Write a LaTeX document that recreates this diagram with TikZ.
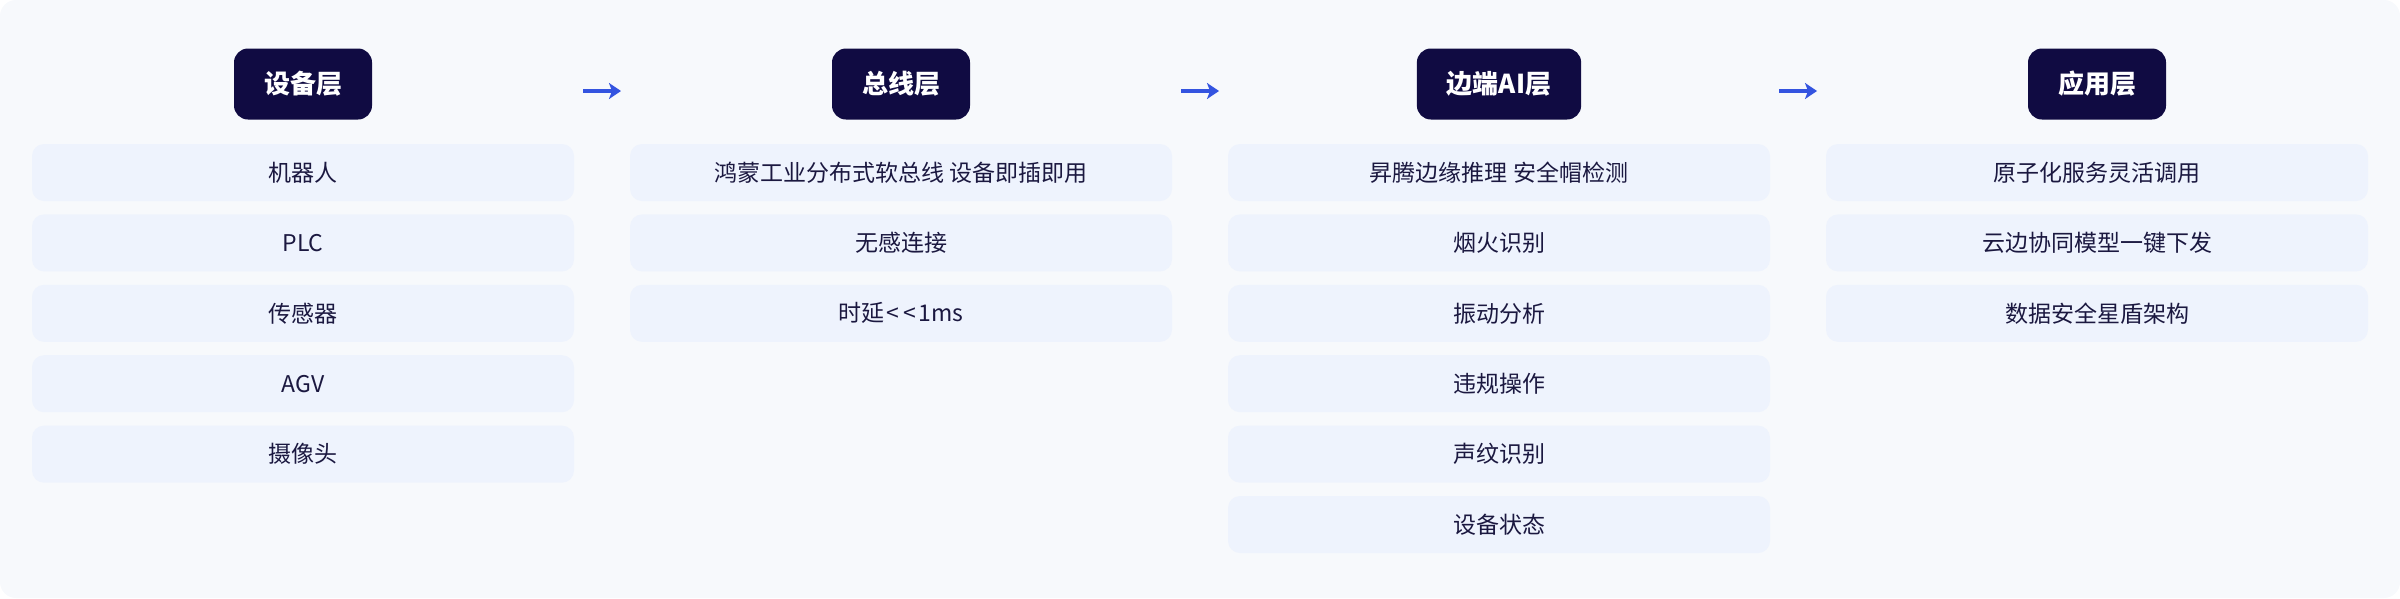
\documentclass[tikz,border=0pt]{standalone}
\usepackage{fontspec}
\setmainfont{Noto Sans CJK SC}
\usepackage{tikz}
\usetikzlibrary{positioning, arrows.meta}
\definecolor{bgcol}{HTML}{F7F9FC}
\definecolor{itemcol}{HTML}{EEF3FD}
\definecolor{navy}{HTML}{100B42}
\definecolor{inkcol}{HTML}{1B1840}
\definecolor{arrowcol}{HTML}{3454E0}

\begin{document}
\begin{tikzpicture}[x=1pt,y=-1pt,node distance=13pt,>={Stealth[length=12pt,width=16pt,inset=3pt]},font=\fontsize{23}{27}\selectfont]
	
	\tikzstyle{layer}=[fill=navy,text=white,rounded corners=14pt,minimum height=71pt,inner xsep=30pt,inner ysep=0pt,font=\fontsize{26}{31}\selectfont\bfseries]
	\tikzstyle{item}=[fill=itemcol,text=inkcol,rounded corners=12pt,minimum width=542pt,minimum height=57pt,inner sep=0pt]
	\tikzstyle{flow}=[->,draw=arrowcol,line width=3.5pt]
	
	\fill[bgcol,rounded corners=16pt] (0,0) rectangle (2400,598);
	\useasboundingbox (0,0) rectangle (2400,598);
	
	\node[layer] (h1) at (303,84) {设备层};
	\node[layer] (h2) at (901,84) {总线层};
	\node[layer] (h3) at (1499,84) {边端AI层};
	\node[layer] (h4) at (2097,84) {应用层};
	
	\node[item] (d1) at (303,172.5) {机器人};
	\node[item,below=of d1] (d2) {PLC};
	\node[item,below=of d2] (d3) {传感器};
	\node[item,below=of d3] (d4) {AGV};
	\node[item,below=of d4] (d5) {摄像头};
	
	\node[item] (b1) at (901,172.5) {鸿蒙工业分布式软总线 设备即插即用};
	\node[item,below=of b1] (b2) {无感连接};
	\node[item,below=of b2] (b3) {时延\hspace{2pt}<\hspace{4pt}<\hspace{2pt}1ms};
	
	\node[item] (e1) at (1499,172.5) {昇腾边缘推理 安全帽检测};
	\node[item,below=of e1] (e2) {烟火识别};
	\node[item,below=of e2] (e3) {振动分析};
	\node[item,below=of e3] (e4) {违规操作};
	\node[item,below=of e4] (e5) {声纹识别};
	\node[item,below=of e5] (e6) {设备状态};
	
	\node[item] (a1) at (2097,172.5) {原子化服务灵活调用};
	\node[item,below=of a1] (a2) {云边协同模型一键下发};
	\node[item,below=of a2] (a3) {数据安全星盾架构};
	
	\coordinate (s1) at (583,91);
	\coordinate (t1) at (621,91);
	\coordinate (s2) at (1181,91);
	\coordinate (t2) at (1219,91);
	\coordinate (s3) at (1779,91);
	\coordinate (t3) at (1817,91);
	
	\draw[flow] (s1) -- (t1);
	\draw[flow] (s2) -- (t2);
	\draw[flow] (s3) -- (t3);
\end{tikzpicture}
\end{document}
